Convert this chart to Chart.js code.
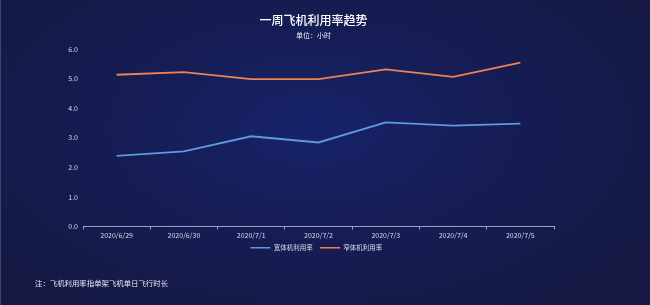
<!DOCTYPE html>
<html>
<head>
<meta charset="utf-8">
<script src="https://cdn.jsdelivr.net/npm/chart.js@4/dist/chart.umd.min.js"></script>
<style>
html,body{margin:0;padding:0;width:650px;height:305px;overflow:hidden;}
body{background:radial-gradient(ellipse 60% 70% at 48% 42%, #17236a 0%, #161d56 45%, #151944 100%);}
#wrap{position:relative;width:650px;height:305px;border-left:1px solid #3b4076;box-sizing:border-box;}
canvas{display:block;}
</style>
</head>
<body>
<div id="wrap"><canvas id="c" width="649" height="305"></canvas></div>
<script>
const categories = ["2020/6/29","2020/6/30","2020/7/1","2020/7/2","2020/7/3","2020/7/4","2020/7/5"];
const seriesNames = ["宽体机利用率","窄体机利用率"];
const wideBody = [2.39, 2.54, 3.05, 2.84, 3.52, 3.41, 3.48];
const narrowBody = [5.13, 5.22, 4.98, 4.98, 5.31, 5.06, 5.54];
const yTicks = [0, 1, 2, 3, 4, 5, 6];
const titleText = "一周飞机利用率趋势";
const subtitleText = "单位：小时";
const noteText = "注：飞机利用率指单架飞机单日飞行时长";

const FONT = "'Noto Sans CJK SC','Noto Sans',sans-serif";

const textPlugin = {
  id: 'texts',
  afterDraw(chart) {
    const ctx = chart.ctx;
    const ca = chart.chartArea;
    const cx = (ca.left + ca.right) / 2 - 5;
    ctx.save();
    ctx.textAlign = 'center';
    ctx.textBaseline = 'middle';
    ctx.fillStyle = '#ffffff';
    ctx.font = "500 12px " + FONT;
    ctx.fillText(titleText, cx, 20);
    ctx.fillStyle = '#e6e8f2';
    ctx.font = "7px " + FONT;
    ctx.fillText(subtitleText, cx, 35);
    ctx.textAlign = 'left';
    ctx.font = "7.4px " + FONT;
    ctx.fillStyle = '#e6e8f2';
    ctx.fillText(noteText, 34, 283);
    ctx.restore();
  }
};

new Chart(document.getElementById('c'), {
  type: 'line',
  data: {
    labels: categories,
    datasets: [
      { label: seriesNames[0], data: wideBody, borderColor: '#5d9ae0', backgroundColor: '#5d9ae0', borderWidth: 1.8, pointRadius: 0, tension: 0 },
      { label: seriesNames[1], data: narrowBody, borderColor: '#ef8350', backgroundColor: '#ef8350', borderWidth: 1.8, pointRadius: 0, tension: 0 }
    ]
  },
  options: {
    responsive: false,
    animation: false,
    layout: { padding: { top: 49, right: 96, bottom: 44, left: 0 } },
    plugins: {
      legend: {
        position: 'bottom',
        fullSize: false,
        labels: {
          color: '#d8dbea',
          font: { size: 6.5, family: FONT },
          boxWidth: 20,
          boxHeight: 1.5,
          padding: 3,
          generateLabels(chart) {
            const items = Chart.defaults.plugins.legend.labels.generateLabels(chart);
            items.forEach(i => { i.lineWidth = 0; i.text = i.text + '   '; });
            return items;
          }
        }
      },
      title: { display: false },
      tooltip: { enabled: false }
    },
    scales: {
      x: {
        offset: true,
        grid: { display: true, drawOnChartArea: false, drawTicks: true, tickLength: 3, color: '#9aa0c8', offset: true },
        border: { display: true, color: '#9aa0c8', width: 1 },
        ticks: { color: '#d8dbea', font: { size: 7, family: FONT }, padding: 2, maxRotation: 0 },
        afterFit(s) { s.height = 15; }
      },
      y: {
        min: 0, max: 6,
        afterBuildTicks(s) { s.ticks = yTicks.map(v => ({ value: v })); },
        grid: { display: false, drawTicks: false },
        border: { display: false },
        ticks: { color: '#d8dbea', font: { size: 7, family: FONT }, padding: 5, callback: v => Number(v).toFixed(1) },
        afterFit(s) { s.width = 82; }
      }
    }
  },
  plugins: [textPlugin]
});
</script>
</body>
</html>
